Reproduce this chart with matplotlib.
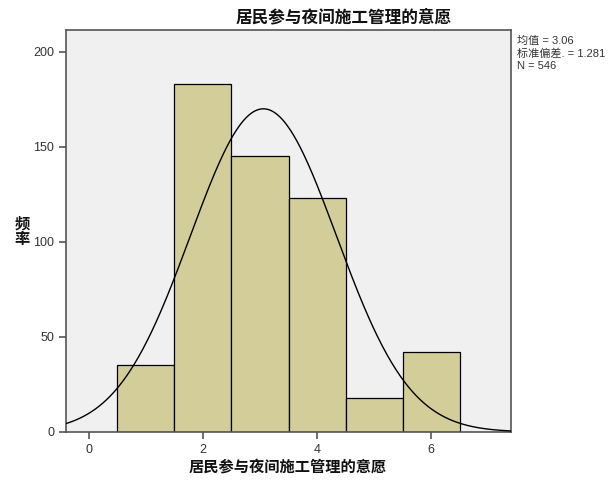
import numpy as np
import matplotlib
matplotlib.use("Agg")
import matplotlib.pyplot as plt

plt.rcParams['font.family'] = ['Liberation Sans', 'Noto Sans CJK SC', 'DejaVu Sans']

bin_centers = [1, 2, 3, 4, 5, 6]
counts = [35, 183, 145, 123, 18, 42]
mean = 3.06
sd = 1.281
n = 546
title = "居民参与夜间施工管理的意愿"
ylabel = "频\n率"
xticks = [0, 2, 4, 6]
yticks = [0, 50, 100, 150, 200]

fig = plt.figure(figsize=(6.15, 4.8), dpi=100)
ax = fig.add_axes([66/615, 1-432/480, (511-66)/615, (432-30)/480])
ax.set_facecolor('#F0F0F0')
ax.bar(bin_centers, counts, width=1.0, color='#D3CE99', edgecolor='black', linewidth=0.9, zorder=2)

xs = np.linspace(-0.4, 7.4, 400)
ys = n * 1.0 / (sd * np.sqrt(2*np.pi)) * np.exp(-0.5*((xs-mean)/sd)**2)
ax.plot(xs, ys, color='black', linewidth=1.0, zorder=3)

ax.set_xlim(-0.4, 7.4)
ax.set_ylim(0, 211.5)
ax.set_xticks(xticks)
ax.set_yticks(yticks)
for s in ax.spines.values():
    s.set_color('#555555')
    s.set_linewidth(1.2)
ax.tick_params(axis='both', colors='#555555', labelcolor='#333333', labelsize=9, length=5, width=1.2)

cjk = ['Noto Sans CJK SC', 'DejaVu Sans']
fig.text(344/615, 1-17/480, title, ha='center', va='center', fontsize=12, fontweight='semibold', family=cjk, color='#111111')
fig.text(288/615, 1-467/480, title, ha='center', va='center', fontsize=11, fontweight='semibold', family=cjk, color='#111111')
fig.text(22/615, 1-231/480, ylabel, ha='center', va='center', fontsize=11, fontweight='semibold', family=cjk, color='#111111', linespacing=0.95)

stats = f"均值 = {mean:.2f}\n标准偏差. = {sd:.3f}\nN = {n}"
fig.text(517/615, 1-36/480, stats, ha='left', va='top', fontsize=8, family=['Liberation Sans', 'Noto Sans CJK SC'], color='#333333', linespacing=1.3)

fig.savefig('out.png', dpi=100)
